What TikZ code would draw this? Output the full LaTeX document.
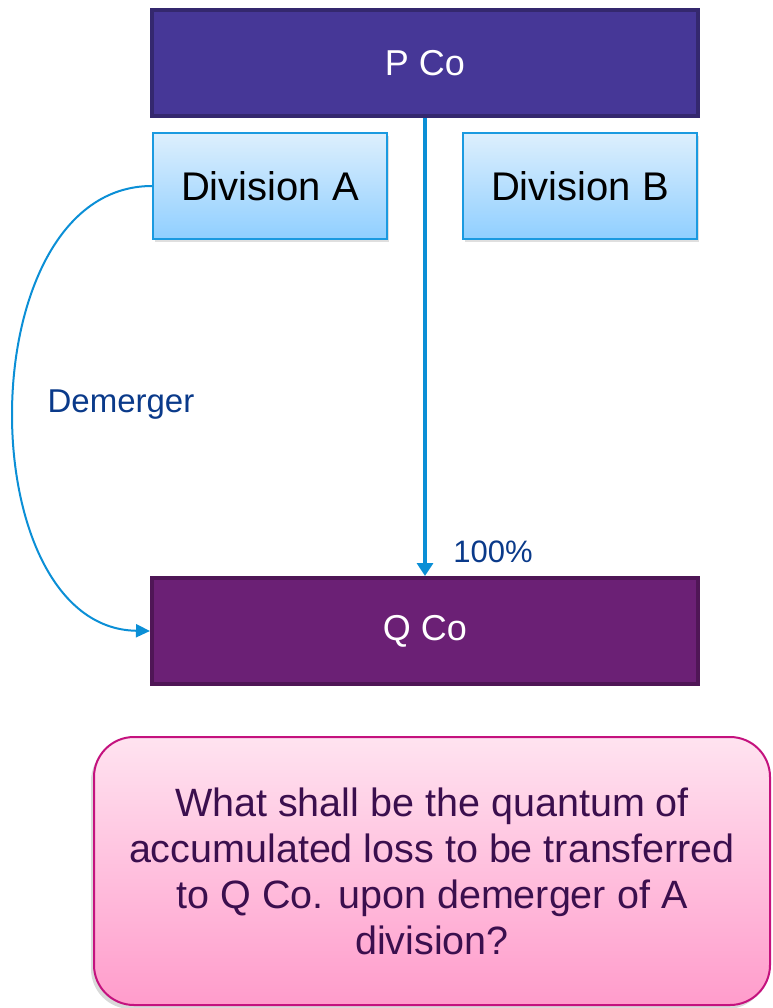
\documentclass[tikz,border=0pt]{standalone}
\usepackage{fontspec}
\setmainfont{Liberation Sans}
\usetikzlibrary{arrows.meta,shadows}
\definecolor{pcofill}{HTML}{463797}
\definecolor{pcoline}{HTML}{34286E}
\definecolor{qcofill}{HTML}{6B2075}
\definecolor{qcoline}{HTML}{4F1656}
\definecolor{divtop}{HTML}{DDEFFD}
\definecolor{divbottom}{HTML}{90CFFF}
\definecolor{divline}{HTML}{1B9AE0}
\definecolor{linkblue}{HTML}{0B8FD6}
\definecolor{labelblue}{HTML}{0A3A8A}
\definecolor{asktop}{HTML}{FFE3F0}
\definecolor{askbottom}{HTML}{FF9CCB}
\definecolor{askline}{HTML}{C4127E}
\definecolor{asktext}{HTML}{3B0F4E}
\begin{document}
\begin{tikzpicture}[x=1pt, y=-1pt,
                    company/.style={line width=4pt, minimum width=546pt, minimum height=106pt,
                                    text=white, font=\fontsize{36}{40}\selectfont},
                    division/.style={draw=divline, line width=2pt, top color=divtop, bottom color=divbottom,
                                     minimum width=234pt, minimum height=106pt,
                                     font=\fontsize{40}{44}\selectfont,
                                     drop shadow={opacity=0.25, shadow xshift=2pt, shadow yshift=-3pt}},
                    tag/.style={text=labelblue, font=\fontsize{31}{34}\selectfont}]
                    \useasboundingbox (0,0) rectangle (772,1008);

                    \node[company, fill=pcofill, draw=pcoline] (pco) at (425,63) {P Co};
                    \node[division] (diva) at (270,186) {Division A};
                    \node[division] (divb) at (580,186) {Division B};
                    \node[company, fill=qcofill, draw=qcoline] (qco) at (425,631) {Q Co};

                    % holding of P Co in Q Co
                    \draw[linkblue, line width=4pt, -{Triangle[length=13pt,width=16pt]}] (pco.south) -- (qco.north);
                    \node[tag] (pct) at (493,552) {100\%};

                    \draw[linkblue, line width=2pt, -{Triangle[length=14pt,width=13pt]}]
                        (diva.west) .. controls (-32,186) and (-32,628) .. (qco.west);
                    \node[tag, font=\fontsize{33}{36}\selectfont] (dem) at (121,405) {Demerger};

                    \node[draw=askline, line width=2pt, rounded corners=40pt, top color=asktop, bottom color=askbottom,
                          minimum width=676pt, minimum height=268pt, text=asktext, align=center,
                          font=\fontsize{39.5}{46}\selectfont,
                          drop shadow={opacity=0.3, shadow xshift=-3pt, shadow yshift=-4pt}] (ask) at (432,871)
                          {What shall be the quantum of\\accumulated loss to be transferred\\to Q Co. upon demerger of A\\division?};
\end{tikzpicture}
\end{document}
